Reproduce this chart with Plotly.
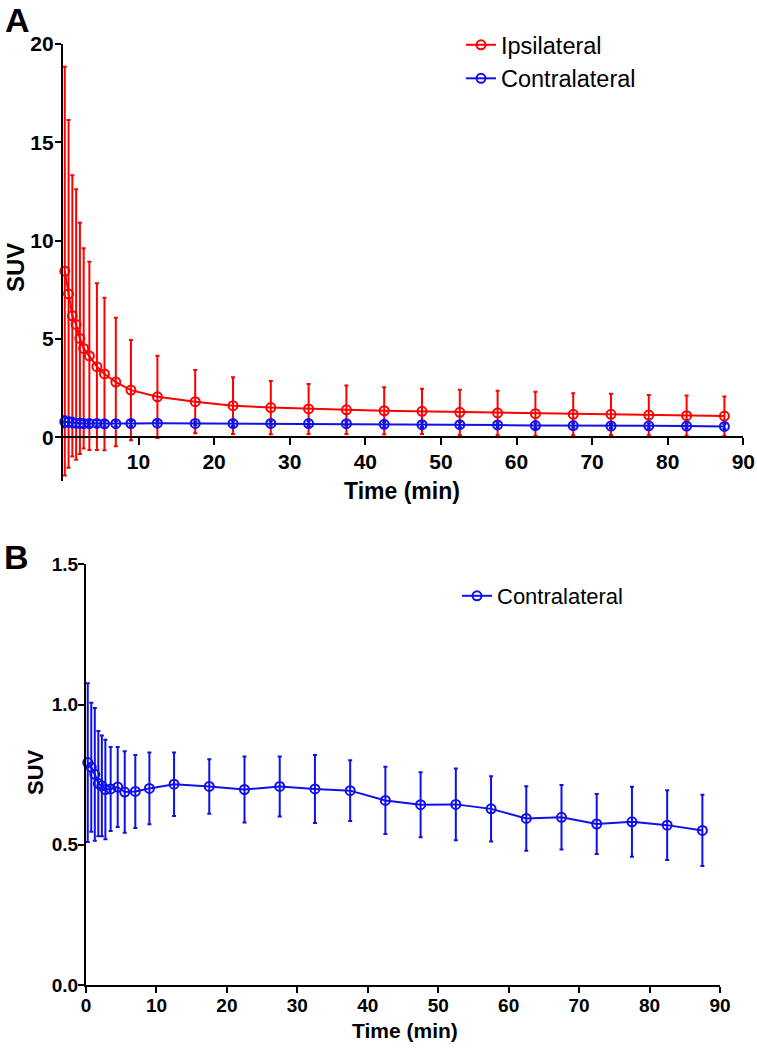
import plotly.graph_objects as go

# ---- data ----
time_min = [0.25, 0.75, 1.25, 1.75, 2.25, 2.75, 3.5, 4.5, 5.5, 7, 9, 12.5, 17.5,
            22.5, 27.5, 32.5, 37.5, 42.5, 47.5, 52.5, 57.5, 62.5, 67.5, 72.5, 77.5, 82.5, 87.5]

ipsi_mean = [8.45, 7.29, 6.18, 5.74, 5.03, 4.52, 4.14, 3.59, 3.22, 2.81, 2.40, 2.06, 1.81,
             1.61, 1.51, 1.44, 1.40, 1.35, 1.32, 1.27, 1.24, 1.20, 1.17, 1.17, 1.13, 1.10, 1.08]
ipsi_sd = [10.39, 8.84, 7.15, 6.88, 5.88, 5.09, 4.79, 4.24, 3.88, 3.27, 2.55, 2.09, 1.61,
           1.44, 1.35, 1.27, 1.23, 1.19, 1.15, 1.15, 1.13, 1.12, 1.07, 1.05, 1.02, 1.02, 1.00]

contra_mean = [0.793, 0.776, 0.751, 0.718, 0.710, 0.697, 0.699, 0.706, 0.688, 0.690, 0.701, 0.716, 0.708,
               0.697, 0.708, 0.699, 0.693, 0.658, 0.643, 0.644, 0.628, 0.594, 0.598, 0.574, 0.582, 0.570, 0.551]
contra_sd = [0.283, 0.230, 0.237, 0.188, 0.180, 0.177, 0.150, 0.143, 0.145, 0.130, 0.128, 0.113, 0.097,
             0.118, 0.107, 0.121, 0.108, 0.120, 0.116, 0.128, 0.116, 0.115, 0.115, 0.107, 0.125, 0.124, 0.127]

xticks_a = [10, 20, 30, 40, 50, 60, 70, 80, 90]
yticks_a = [0, 5, 10, 15, 20]
xticks_b = [0, 10, 20, 30, 40, 50, 60, 70, 80, 90]
yticks_b = [0.0, 0.5, 1.0, 1.5]

RED = "#FF0000"
BLUE = "#1010E8"
FONT = "Liberation Sans, Arial, sans-serif"

W, H = 757, 1050
def px(x):
    return x / W
def py(y):
    return 1 - y / H

fig = go.Figure()

def add_series(x, y, e, name, color, xa, ya, legend, showlegend=True):
    fig.add_trace(go.Scatter(
        x=x, y=y, name=name, mode="lines+markers",
        line=dict(color=color, width=2),
        marker=dict(symbol="circle-open", size=9, color=color, line=dict(width=2, color=color)),
        error_y=dict(type="data", array=e, visible=True, color=color, thickness=2, width=2),
        xaxis=xa, yaxis=ya, legend=legend, showlegend=showlegend, cliponaxis=False,
        hoverinfo="skip",
    ))

add_series(time_min, ipsi_mean, ipsi_sd, "Ipsilateral", RED, "x", "y", "legend")
add_series(time_min, contra_mean, contra_sd, "Contralateral", BLUE, "x", "y", "legend")
add_series(time_min, contra_mean, contra_sd, "Contralateral", BLUE, "x2", "y2", "legend2")

# panel A geometry
ya_top, ya_zero, ya_bot = 44.0, 437.3, 480.6
a_ymin = -(ya_bot - ya_zero) / ((ya_zero - ya_top) / 20.0)

axis_common = dict(showgrid=False, zeroline=False, showline=True, linecolor="black", linewidth=2,
                   ticks="outside", tickcolor="black", tickwidth=2, automargin=False)

fig.update_layout(
    width=W, height=H,
    margin=dict(l=0, r=0, t=0, b=0, autoexpand=False),
    paper_bgcolor="white", plot_bgcolor="white",
    font=dict(family=FONT, color="black"),
    hovermode=False,
    xaxis=dict(domain=[px(62.9), px(743.3)], range=[0, 90], anchor="free", position=py(ya_zero),
               tickvals=xticks_a, ticklen=7, ticklabelstandoff=-2,
               tickfont=dict(size=21, weight="bold", family=FONT), **axis_common),
    yaxis=dict(domain=[py(ya_bot), py(ya_top)], range=[a_ymin, 20], anchor="x",
               tickvals=yticks_a, ticklen=6, ticklabelstandoff=-3,
               tickfont=dict(size=21, weight="bold", family=FONT), **axis_common),
    xaxis2=dict(domain=[px(86), px(720)], range=[0, 90], anchor="y2",
                tickvals=xticks_b, ticklen=6, ticklabelstandoff=-4,
                tickfont=dict(size=19, weight="bold", family=FONT), **axis_common),
    yaxis2=dict(domain=[py(985), py(564.3)], range=[0, 1.5], anchor="x2",
                tickvals=yticks_b, tickformat=".1f", ticklen=6, ticklabelstandoff=-4,
                tickfont=dict(size=19, weight="bold", family=FONT), **axis_common),
    legend=dict(x=px(461), y=py(23), xanchor="left", yanchor="top",
                font=dict(size=23.5, family=FONT), bgcolor="rgba(0,0,0,0)",
                itemwidth=30, tracegroupgap=0),
    legend2=dict(x=px(457), y=py(575), xanchor="left", yanchor="top",
                 font=dict(size=22, family=FONT), bgcolor="rgba(0,0,0,0)",
                 itemwidth=30),
)

ann = [
    dict(text="A", x=px(17), y=py(20), size=34),
    dict(text="B", x=px(16), y=py(557), size=34),
    dict(text="Time (min)", x=px(402), y=py(491), size=23),
    dict(text="Time (min)", x=px(405), y=py(1030), size=21),
]
for a in ann:
    fig.add_annotation(text=a["text"], x=a["x"], y=a["y"], xref="paper", yref="paper",
                       xanchor="center", yanchor="middle", showarrow=False,
                       font=dict(size=a["size"], weight="bold", family=FONT, color="black"))
for t, x, y, s in [("SUV", 15, 268, 24), ("SUV", 35, 772, 22)]:
    fig.add_annotation(text=t, x=px(x), y=py(y), xref="paper", yref="paper",
                       xanchor="center", yanchor="middle", showarrow=False, textangle=-90,
                       font=dict(size=s, weight="bold", family=FONT, color="black"))

fig.write_html("out.html", config={"displayModeBar": False, "staticPlot": True},
               post_script="document.body.style.margin='0';document.body.style.overflow='hidden';")
